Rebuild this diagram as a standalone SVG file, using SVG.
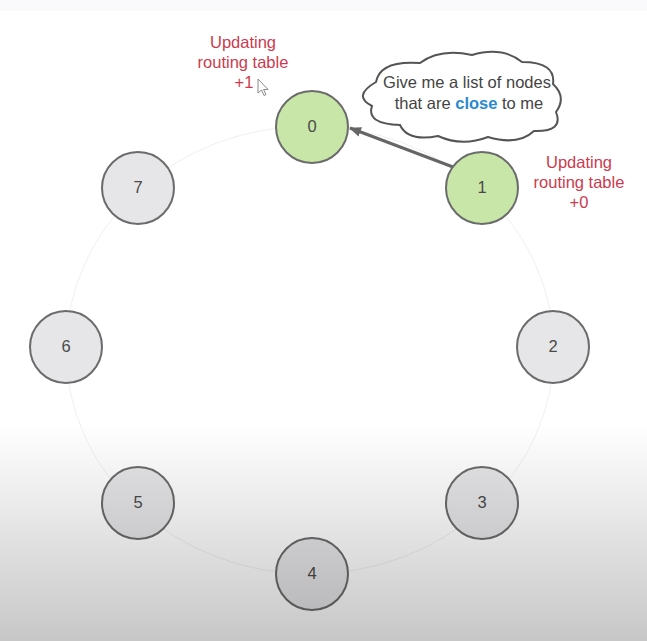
<svg xmlns="http://www.w3.org/2000/svg" width="647" height="641" viewBox="0 0 647 641">
  <style>
    .node circle { stroke: #6b6b6b; stroke-width: 2; }
    .gray circle { fill: #e6e6e8; }
    .green circle { fill: #c8e6a8; }
    .node text { font-family: "Liberation Sans", Arial, sans-serif; font-size: 16.5px; fill: #4a4a4a; text-anchor: middle; }
    .red { font-family: "Liberation Sans", Arial, sans-serif; font-size: 16.5px; fill: #cc3b4f; text-anchor: middle; }
    .cloudtxt { font-family: "Liberation Sans", Arial, sans-serif; font-size: 16.5px; fill: #444; text-anchor: middle; }
  </style>
  <defs>
    <linearGradient id="shade" x1="0" y1="0" x2="0" y2="1">
      <stop offset="0" stop-color="#000" stop-opacity="0"/>
      <stop offset="1" stop-color="#000" stop-opacity="0.22"/>
    </linearGradient>
    <marker id="arrow" viewBox="0 0 12 10" refX="11" refY="5" markerWidth="12" markerHeight="10" markerUnits="userSpaceOnUse" orient="auto">
      <path d="M0,0 L12,5 L0,10 Z" fill="#666"/>
    </marker>
  </defs>
  <rect x="0" y="0" width="647" height="641" fill="#ffffff"/>
  <rect x="0" y="0" width="647" height="11" fill="#fafafc"/>

  <g id="ring">
    <ellipse cx="310" cy="350" rx="244" ry="224" fill="none" stroke="#f0f0f0" stroke-width="1"/>
  </g>

  <g id="connectors">
    <line x1="453" y1="167" x2="350" y2="128" stroke="#666" stroke-width="3" marker-end="url(#arrow)"/>
  </g>

  <g id="node0" class="node green"><circle cx="312" cy="127" r="36"/><text x="312" y="132">0</text></g>
  <g id="node1" class="node green"><circle cx="482" cy="188" r="36"/><text x="482" y="193">1</text></g>
  <g id="node2" class="node gray"><circle cx="553" cy="347" r="36"/><text x="553" y="352">2</text></g>
  <g id="node3" class="node gray"><circle cx="482" cy="503" r="36"/><text x="482" y="508">3</text></g>
  <g id="node4" class="node gray"><circle cx="312" cy="574" r="36"/><text x="312" y="579">4</text></g>
  <g id="node5" class="node gray"><circle cx="138" cy="503" r="36"/><text x="138" y="508">5</text></g>
  <g id="node6" class="node gray"><circle cx="66" cy="347" r="36"/><text x="66" y="352">6</text></g>
  <g id="node7" class="node gray"><circle cx="138" cy="188" r="36"/><text x="138" y="193">7</text></g>

  <g id="cloud">
    <path d="M 376 82 Q 380 60 420 63 Q 440 48 472 55 Q 502 46 522 62 Q 556 62 553 84 Q 567 97 556 112 Q 564 132 534 131 Q 518 146 488 137 Q 462 147 438 136 Q 408 142 400 125 Q 366 124 372 106 Q 352 96 376 82 Z" fill="#fff" stroke="#555" stroke-width="2"/>
    <text class="cloudtxt" x="467" y="88">Give me a list of nodes</text>
    <text class="cloudtxt" x="469" y="109">that are <tspan fill="#2a8ad0" font-weight="bold">close</tspan> to me</text>
  </g>

  <g id="label0">
    <text class="red" x="243" y="48">Updating</text>
    <text class="red" x="243" y="68">routing table</text>
    <text class="red" x="244" y="88">+1</text>
  </g>
  <g id="label1">
    <text class="red" x="579" y="168">Updating</text>
    <text class="red" x="579" y="188">routing table</text>
    <text class="red" x="579" y="208">+0</text>
  </g>

  <g id="cursor">
    <path d="M 258 79 L 258 93 L 261.5 90 L 264 95.5 L 266 94.5 L 263.5 89.5 L 268 89.5 Z" fill="#fff" stroke="#8a8a8a" stroke-width="1"/>
  </g>

  <rect x="0" y="425" width="647" height="216" fill="url(#shade)" pointer-events="none"/>
</svg>
